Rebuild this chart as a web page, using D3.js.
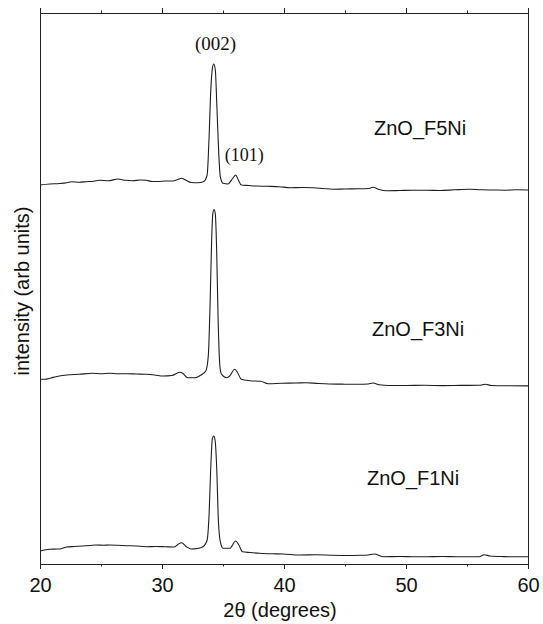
<!DOCTYPE html>
<html>
<head>
<meta charset="utf-8">
<script src="https://cdn.jsdelivr.net/npm/d3@7"></script>
<style>
    body { margin: 0; background: #fff; }
    svg { display: block; }
</style>
</head>
<body>
<div id="chart"></div>
<script>
// x-ray diffraction patterns (arb units)
const sample_names = ["ZnO_F1Ni", "ZnO_F3Ni", "ZnO_F5Ni"];
const sample_offsets = [0, 172, 367];

const f1ni_theta = [20.0, 20.8, 21.4, 21.75, 22.2, 22.8, 23.5, 24.1, 24.6, 25.2, 25.7, 26.4, 27.1, 27.9, 28.7, 29.5, 30.3, 31.0, 31.3, 31.6, 32.0, 32.4, 32.9, 33.36, 33.7, 33.85, 34.0, 34.13, 34.24, 34.35, 34.48, 34.62, 34.78, 35.0, 35.55, 36.04, 36.3, 36.6, 37.2, 38.0, 39.0, 39.9, 41.3, 42.6, 44.0, 45.2, 46.2, 46.9, 47.4, 48.1, 49.5, 50.6, 51.7, 53.0, 54.2, 55.2, 56.0, 56.4, 56.9, 58.0, 59.0, 60.0];
const f1ni_intensity = [13, 14.7, 15, 15.3, 17, 17.5, 18, 18.5, 19, 18.7, 19, 18.7, 18.3, 18, 17.3, 17.5, 17.2, 17, 19.5, 21.3, 17.3, 15, 15.5, 17.3, 24, 47.3, 97.3, 125.7, 128, 124, 97.3, 44, 22.3, 15.7, 15.7, 23, 19, 12.3, 11.5, 10.7, 10.2, 10, 9, 9.2, 8.7, 8.5, 8.7, 9, 10, 7.3, 7.5, 7.2, 7.3, 7.5, 7.2, 7.3, 7.3, 9.3, 8, 7.4, 7.2, 7.3];

const f3ni_theta = [20.0, 20.4, 20.9, 21.3, 22.2, 23.2, 24.3, 25.0, 25.7, 26.4, 27.1, 27.9, 28.7, 29.4, 30.1, 30.8, 31.45, 31.7, 32.1, 32.7, 33.2, 33.6, 33.8, 33.95, 34.07, 34.17, 34.27, 34.37, 34.48, 34.6, 34.75, 34.87, 35.3, 35.55, 35.96, 36.2, 36.5, 37.2, 38.1, 38.7, 39.8, 41.0, 41.8, 42.8, 43.7, 45.0, 46.2, 46.9, 47.3, 47.8, 48.6, 50.0, 51.5, 53.0, 54.5, 56.0, 56.5, 57.0, 58.5, 60.0];
const f3ni_intensity = [12.7, 12.7, 14, 15.3, 17, 17.7, 18.7, 18.2, 18.7, 18.2, 18.3, 18, 17.7, 17, 16, 16.5, 19.7, 18.7, 14.3, 14.3, 17, 21.3, 37, 92, 152, 179, 182.5, 178, 142, 72, 25.3, 18, 14.3, 16, 22.7, 19.3, 12.7, 11.3, 10.7, 8.3, 8.7, 9, 9.3, 8.5, 8, 7.8, 7.7, 8, 9, 7.2, 6.5, 6.5, 6.7, 6.4, 6.6, 6.7, 7.8, 6.5, 6.2, 6.1];

const f5ni_theta = [20.0, 20.8, 21.6, 22.2, 22.6, 23.2, 23.8, 24.4, 24.9, 25.6, 26.4, 27.0, 27.6, 28.2, 28.7, 29.2, 29.7, 30.3, 30.9, 31.3, 31.6, 31.9, 32.4, 32.9, 33.4, 33.7, 33.85, 34.0, 34.13, 34.24, 34.37, 34.5, 34.65, 34.78, 35.0, 35.4, 35.8, 36.04, 36.26, 36.5, 37.1, 37.7, 38.6, 39.6, 40.5, 41.5, 42.4, 43.2, 44.0, 45.0, 46.2, 46.9, 47.3, 47.8, 48.4, 49.5, 50.6, 51.7, 52.8, 54.0, 55.2, 56.2, 57.1, 58.2, 59.0, 60.0];
const f5ni_intensity = [12, 13, 13.5, 14.3, 15.3, 14.8, 15.3, 15.8, 16.7, 16.2, 18, 16.7, 16.3, 17, 16.7, 15.5, 15.5, 16, 16, 17.5, 18.7, 17.2, 14.5, 14.3, 15.3, 22, 57, 107, 128.7, 133, 127, 90.3, 44, 20.3, 13.7, 13, 18.7, 22, 17, 12, 11.5, 11, 10.7, 10.3, 9.3, 9.5, 9.3, 8.5, 7.7, 8, 8.2, 8.5, 9.7, 7.5, 6.3, 6.5, 6.7, 6.7, 6.5, 7.2, 7.7, 7.2, 7, 6.8, 7.2, 7];

const x_ticks = [20, 30, 40, 50, 60];
const x_minor_ticks = [25, 35, 45, 55];
const peak_labels = ["(002)", "(101)"];
const peak_theta = [34.27, 36.04];

const svg_w = 543, svg_h = 624;
const margin = { top: 13, right: 15, bottom: 60, left: 40 };
const width = svg_w - margin.left - margin.right,
    height = svg_h - margin.top - margin.bottom;

const series = [
    { name: sample_names[0], offset: sample_offsets[0], theta: f1ni_theta, intensity: f1ni_intensity },
    { name: sample_names[1], offset: sample_offsets[1], theta: f3ni_theta, intensity: f3ni_intensity },
    { name: sample_names[2], offset: sample_offsets[2], theta: f5ni_theta, intensity: f5ni_intensity },
];

const svg = d3.select("#chart")
    .append("svg")
    .attr("width", svg_w)
    .attr("height", svg_h)
    .attr("viewBox", [0, 0, svg_w, svg_h]);

const g = svg.append("g")
    .attr("transform", "translate(" + margin.left + "," + margin.top + ")");

var x = d3.scaleLinear().domain([20, 60]).range([0, width]);
var y = d3.scaleLinear().domain([0, height - 1]).range([height, 1]);

// draw patterns
var line = d3.line()
    .x(function (d) { return x(d[0]); })
    .y(function (d) { return y(d[1]); })
    .curve(d3.curveMonotoneX);

g.selectAll(".pattern")
    .data(series)
    .enter()
    .append("path")
    .attr("class", "pattern")
    .attr("d", function (s) {
        return line(s.theta.map(function (t, i) { return [t, s.intensity[i] + s.offset]; }));
    })
    .style("fill", "none")
    .style("stroke", "#1e1e1e")
    .style("stroke-width", 1.1)
    .style("stroke-linejoin", "round");

// sample labels
var label_pos = [[327, 472], [332, 323], [334, 122]];
g.selectAll(".sample")
    .data(series)
    .enter()
    .append("text")
    .attr("class", "sample")
    .attr("x", function (d, i) { return label_pos[i][0]; })
    .attr("y", function (d, i) { return label_pos[i][1]; })
    .text(function (d) { return d.name; })
    .style("font-family", "'Liberation Sans', Arial, sans-serif")
    .style("font-size", "20px")
    .style("fill", "#111");

// peak indices
g.append("text")
    .attr("x", x(peak_theta[0]) + 1.5)
    .attr("y", 37)
    .attr("text-anchor", "middle")
    .text(peak_labels[0])
    .style("font-family", "'Liberation Serif', 'Times New Roman', serif")
    .style("font-size", "19px")
    .style("fill", "#111");

g.append("text")
    .attr("x", x(peak_theta[1]) - 11)
    .attr("y", 148)
    .text(peak_labels[1])
    .style("font-family", "'Liberation Serif', 'Times New Roman', serif")
    .style("font-size", "18px")
    .style("fill", "#111");

// axes
var xAxis = d3.axisBottom(x).tickValues(x_ticks).tickSize(5).tickPadding(9).tickFormat(d3.format("d"));
var xAxisMinor = d3.axisBottom(x).tickValues(x_minor_ticks).tickSize(2.5).tickFormat("");
var xTop = d3.axisTop(x).tickValues(x_ticks).tickSize(5).tickFormat("");
var xTopMinor = d3.axisTop(x).tickValues(x_minor_ticks).tickSize(2.5).tickFormat("");

var gx = g.append("g").attr("transform", "translate(0," + height + ")").call(xAxis);
g.append("g").attr("transform", "translate(0," + height + ")").call(xAxisMinor);
g.append("g").call(xTop);
g.append("g").call(xTopMinor);

g.selectAll(".domain").remove();
g.selectAll(".tick line").style("stroke", "#222");
gx.selectAll("text")
    .style("font-family", "'Liberation Sans', Arial, sans-serif")
    .style("font-size", "20px")
    .style("fill", "#111");

// frame
g.append("rect")
    .attr("x", 0.5)
    .attr("y", 0.5)
    .attr("width", width)
    .attr("height", height)
    .style("fill", "none")
    .style("stroke", "#222")
    .style("stroke-width", 1);

// axis titles
svg.append("text")
    .attr("x", 280)
    .attr("y", 617)
    .attr("text-anchor", "middle")
    .text("2θ (degrees)")
    .style("font-family", "'Liberation Sans', Arial, sans-serif")
    .style("font-size", "20px")
    .style("fill", "#111");

svg.append("text")
    .attr("transform", "translate(29,291) rotate(-90)")
    .attr("text-anchor", "middle")
    .text("intensity (arb units)")
    .style("font-family", "'Liberation Sans', Arial, sans-serif")
    .style("font-size", "20px")
    .style("fill", "#111");
</script>
</body>
</html>
